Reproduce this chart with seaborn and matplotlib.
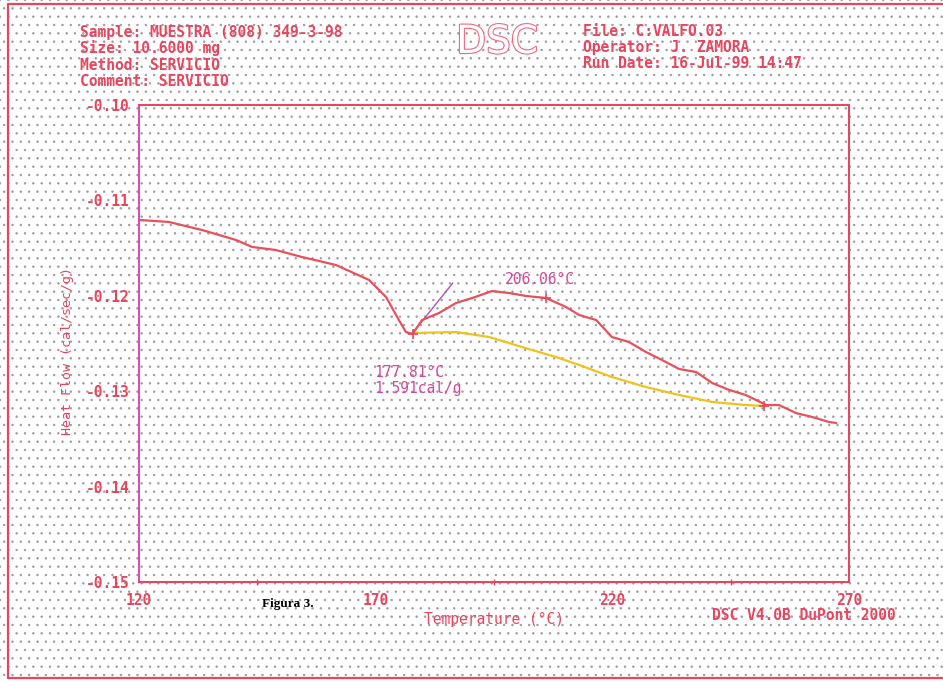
import numpy as np
import pandas as pd
import matplotlib
matplotlib.use("Agg")
import matplotlib.pyplot as plt
from matplotlib.patches import Rectangle
from matplotlib.lines import Line2D
import matplotlib.patheffects as pe
import seaborn as sns

# ---------------- data ----------------
temp = [120.0, 126.3, 133.3, 140.5, 143.9, 148.9, 154.4, 161.6, 168.6, 172.2,
        174.9, 176.4, 177.8, 179.8, 183.4, 187.0, 190.4, 194.6, 198.2, 201.8,
        206.0, 210.2, 213.0, 216.6, 219.9, 223.5, 227.1, 230.5, 234.1, 237.7,
        241.1, 244.7, 248.2, 252.5, 255.2, 258.8, 262.2, 265.8, 267.3]
heat_flow = [-0.11205, -0.11226, -0.11310, -0.11415, -0.11488, -0.11520, -0.11593,
             -0.11677, -0.11834, -0.12013, -0.12254, -0.12380, -0.12400, -0.12254,
             -0.12180, -0.12075, -0.12023, -0.11950, -0.11971, -0.12002, -0.12023,
             -0.12117, -0.12201, -0.12254, -0.12432, -0.12484, -0.12589, -0.12673,
             -0.12767, -0.12799, -0.12914, -0.12987, -0.13040, -0.13145, -0.13145,
             -0.13229, -0.13270, -0.13323, -0.13333]

base_temp = [177.8, 187.0, 194.0, 200.9, 208.1, 213.0, 219.9, 227.1, 234.1, 241.1, 248.2, 252.0]
base_hf = [-0.12390, -0.12380, -0.12432, -0.12537, -0.12642, -0.12725, -0.12851,
           -0.12956, -0.13040, -0.13113, -0.13145, -0.13155]

tangent_temp = [177.8, 186.3]
tangent_hf = [-0.12390, -0.11866]

marker_temp = [177.81, 206.06, 252.0]
marker_hf = [-0.12400, -0.12023, -0.13155]

x_ticks = [120, 170, 220, 270]
y_ticks = [-0.10, -0.11, -0.12, -0.13, -0.14, -0.15]
y_ticklabels = ["-0.10", "-0.11", "-0.12", "-0.13", "-0.14", "-0.15"]

header_left = ["Sample: MUESTRA (808) 349-3-98", "Size: 10.6000 mg",
               "Method: SERVICIO", "Comment: SERVICIO"]
header_right = ["File: C:VALFO.03", "Operator: J. ZAMORA", "Run Date: 16-Jul-99 14:47"]

# ---------------- style ----------------
sns.set_theme(style="white")
plt.rcParams["font.family"] = ["DejaVu Sans Mono", "DejaVu Sans"]
plt.rcParams["axes.unicode_minus"] = False
plt.rcParams["hatch.linewidth"] = 0.5

RED = "#e8465e"
PINK = "#ef6a80"
MAGENTA = "#d24a9a"
LEFTSPINE = "#d94cc0"
YELLOW = "#f2c21c"
CURVE = "#e8505a"

W, H = 943, 682
fig = plt.figure(figsize=(W / 100, H / 100), dpi=100)
fig.patch.set_facecolor("white")

# dotted graph-paper background
bg = Rectangle((0, 0), 1, 1, transform=fig.transFigure, facecolor="white",
               edgecolor="#9a9a9a", linewidth=0, hatch="..", zorder=-10)
fig.patches.append(bg)

def fx(px):
    return px / W

def fy(py):
    return 1 - py / H

# outer page border (left, top, bottom)
for (x0, y0, x1, y1) in [(8, 4, 8, 678), (8, 4, 943, 4), (8, 678, 943, 678)]:
    fig.add_artist(Line2D([fx(x0), fx(x1)], [fy(y0), fy(y1)], transform=fig.transFigure,
                          color=RED, lw=1.6))

L, R, T, B = 139, 849, 105, 582
ax = fig.add_axes([fx(L), fy(B), (R - L) / W, (B - T) / H])
ax.patch.set_alpha(0)

df = pd.DataFrame({"Temperature": temp, "HeatFlow": heat_flow})
dfb = pd.DataFrame({"Temperature": base_temp, "HeatFlow": base_hf})
dft = pd.DataFrame({"Temperature": tangent_temp, "HeatFlow": tangent_hf})
dfm = pd.DataFrame({"Temperature": marker_temp, "HeatFlow": marker_hf})

sns.lineplot(data=dfb, x="Temperature", y="HeatFlow", ax=ax, color=YELLOW, lw=1.6,
             sort=False, zorder=3)
sns.lineplot(data=dft, x="Temperature", y="HeatFlow", ax=ax, color="#b24fc0", lw=1.0,
             sort=False, zorder=3)
sns.lineplot(data=df, x="Temperature", y="HeatFlow", ax=ax, color=CURVE, lw=1.6,
             sort=False, zorder=4)
sns.scatterplot(data=dfm, x="Temperature", y="HeatFlow", ax=ax, marker="+", s=60,
                color=RED, linewidth=1.2, zorder=5)

ax.set_xlim(120, 270)
ax.set_ylim(-0.15, -0.10)
ax.set_xticks(x_ticks)
ax.set_xticks([145, 195, 245], minor=True)
ax.set_yticks(y_ticks)
ax.set_yticklabels(y_ticklabels)
ax.tick_params(axis="both", which="major", direction="out", length=6, width=1.2,
               colors=RED, labelsize=10.5, labelcolor=RED)
ax.tick_params(axis="x", which="major", direction="inout", length=8, pad=4)
ax.tick_params(axis="x", which="minor", direction="inout", length=5, width=1.0,
               color=RED, bottom=True)
ax.tick_params(axis="y", pad=1)
for lab in ax.get_xticklabels() + ax.get_yticklabels():
    lab.set_fontweight("bold")
for s in ["top", "right", "bottom"]:
    ax.spines[s].set_color(RED)
    ax.spines[s].set_linewidth(1.5)
ax.spines["left"].set_color(LEFTSPINE)
ax.spines["left"].set_linewidth(1.5)

ax.set_xlabel("Temperature (°C)", color=RED, fontsize=10.5, labelpad=3)
ax.set_ylabel("Heat Flow (cal/sec/g)", color=RED, fontsize=9.6)
ax.yaxis.label.set_va("center")
ax.yaxis.set_label_coords((68 - L) / (R - L), (B - 351) / (B - T))

# annotations inside plot
ax.text(197.3, -0.11834, "206.06°C", color=MAGENTA, fontsize=10.5, va="center", ha="left")
ax.text(169.6, -0.12799, "177.81°C", color=MAGENTA, fontsize=10.5, va="center", ha="left")
ax.text(169.6, -0.12967, "1.591cal/g", color=MAGENTA, fontsize=10.5, va="center", ha="left")

# header texts
for i, s in enumerate(header_left):
    fig.text(fx(80), fy(32 + 16.5 * i), s, color=RED, fontsize=10.5, va="center",
             ha="left", fontweight="bold")
for i, s in enumerate(header_right):
    fig.text(fx(583), fy(32 + 15.5 * i), s, color=RED, fontsize=10.5, va="center",
             ha="left", fontweight="bold")
dsc = fig.text(fx(497), fy(42), "DSC", color="white", fontsize=28, va="center",
               ha="center", family=["DejaVu Sans"])
dsc.set_path_effects([pe.Stroke(linewidth=1.6, foreground=PINK), pe.Normal()])

fig.text(fx(712), fy(616), "DSC V4.0B DuPont 2000", color=RED, fontsize=10.5,
         va="center", ha="left", fontweight="bold")
fig.text(fx(262), fy(604), "Figura 3.", color="black", fontsize=9.5, va="center",
         ha="left", family=["Liberation Serif"], fontweight="bold")

fig.savefig("out.png", dpi=100)
